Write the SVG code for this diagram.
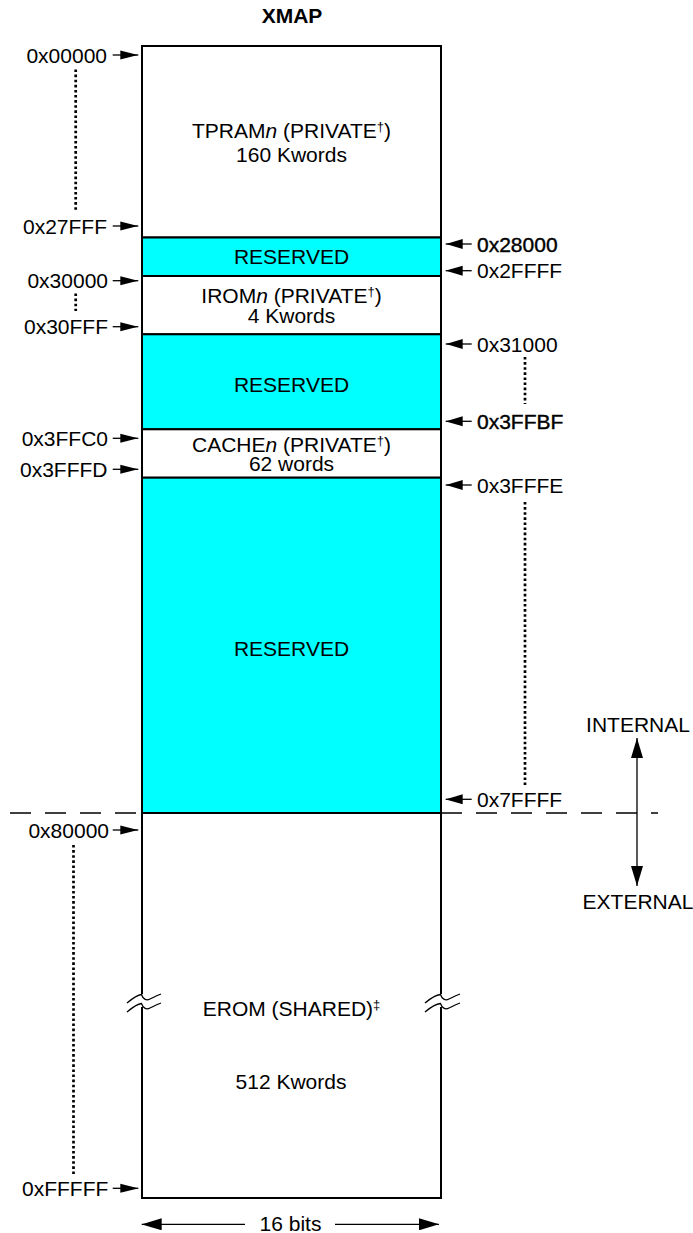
<svg xmlns="http://www.w3.org/2000/svg" width="693" height="1233" viewBox="0 0 693 1233">
<defs>
<style>
text{font-family:"Liberation Sans",Arial,sans-serif;font-size:21px;fill:#000}
.c{text-anchor:middle}
.r{text-anchor:end}
.b{font-weight:bold}
.hv{stroke:#000;stroke-width:0.4}
.blk{stroke:#000;stroke-width:2;fill:#fff}
.res{stroke:#000;stroke-width:2;fill:#00ffff}
.ln{stroke:#000;stroke-width:1.3;fill:none}
.dot{stroke:#000;stroke-width:2.7;fill:none;stroke-dasharray:2.6 2.5}
.dash{stroke:#000;stroke-width:1.3;fill:none;stroke-dasharray:21 14}
.brk{stroke:#000;stroke-width:1.3;fill:none}
.side{stroke:#000;stroke-width:2;fill:none}
</style>
<marker id="aS" markerUnits="userSpaceOnUse" markerWidth="18" markerHeight="10" refX="18" refY="5" orient="auto"><path d="M0,0.5 L18,5 L0,9.5 z" fill="#000"/></marker>
<marker id="aR" markerUnits="userSpaceOnUse" markerWidth="17" markerHeight="11" refX="17" refY="5.5" orient="auto"><path d="M0,0.5 L17,5.5 L0,10.5 z" fill="#000"/></marker>
<marker id="aB" markerUnits="userSpaceOnUse" markerWidth="20" markerHeight="12" refX="20" refY="6" orient="auto"><path d="M0,0 L20,6 L0,12 z" fill="#000"/></marker>
</defs>

<text class="c b" x="292" y="23">XMAP</text>

<g id="tpram">
<rect class="blk" x="142" y="46" width="299" height="191.5"/>
<text class="c" x="291.5" y="137.5">TPRAM<tspan font-style="italic">n</tspan> (PRIVATE<tspan font-size="13" dy="-7">†</tspan><tspan dy="7">)</tspan></text>
<text class="c" x="291.5" y="162.3">160 Kwords</text>
</g>
<g id="reserved1">
<rect class="res" x="142" y="237.5" width="299" height="38.5"/>
<text class="c" x="291.5" y="264">RESERVED</text>
</g>
<g id="irom">
<rect class="blk" x="142" y="276" width="299" height="58.3"/>
<text class="c" x="291.5" y="302.5">IROM<tspan font-style="italic">n</tspan> (PRIVATE<tspan font-size="13" dy="-7">†</tspan><tspan dy="7">)</tspan></text>
<text class="c" x="291.5" y="323">4 Kwords</text>
</g>
<g id="reserved2">
<rect class="res" x="142" y="334.3" width="299" height="95"/>
<text class="c" x="291.5" y="392">RESERVED</text>
</g>
<g id="cache">
<rect class="blk" x="142" y="429.3" width="299" height="48.4"/>
<text class="c" x="291.5" y="451.7">CACHE<tspan font-style="italic">n</tspan> (PRIVATE<tspan font-size="13" dy="-7">†</tspan><tspan dy="7">)</tspan></text>
<text class="c" x="291.5" y="470.5">62 words</text>
</g>
<g id="reserved3">
<rect class="res" x="142" y="477.7" width="299" height="335.3"/>
<text class="c" x="291.5" y="655.5">RESERVED</text>
</g>
<g id="erom">
<rect x="142" y="813" width="299" height="385" fill="#fff"/>
<path class="side" d="M141,813 H442 M141,1198 H442"/>
<path class="side" d="M142,813 V994 M142,1007 V1199 M441,813 V994 M441,1007 V1199"/>
<path class="brk" d="M127,1003 C133,998 137,995 141.5,994.5 C143,999 146,1001 150,999 C154,997 158,995 161,994"/>
<path class="brk" d="M127,1012 C133,1007 137,1004 141.5,1003.5 C143,1008 146,1010 150,1008 C154,1006 158,1004 161,1003"/>
<path class="brk" d="M425,1003 C431,998 435,995 440.5,994.5 C442,999 445,1001 449,999 C453,997 457,995 460,994"/>
<path class="brk" d="M425,1012 C431,1007 435,1004 440.5,1003.5 C442,1008 445,1010 449,1008 C453,1006 457,1004 460,1003"/>
<text class="c" x="291.5" y="1016">EROM (SHARED)<tspan font-size="13" dy="-7">‡</tspan></text>
<text class="c" x="291" y="1089">512 Kwords</text>
</g>

<g id="left-labels">
<text class="r" x="107" y="62.5">0x00000</text>
<text class="r" x="107" y="233.5">0x27FFF</text>
<text class="r" x="108" y="288">0x30000</text>
<text class="r" x="108" y="334">0x30FFF</text>
<text class="r" x="108" y="445.5">0x3FFC0</text>
<text class="r" x="107.5" y="476.5">0x3FFFD</text>
<text class="r" x="109" y="837.5">0x80000</text>
<text class="r" x="108.3" y="1195.7">0xFFFFF</text>
</g>
<g id="right-labels">
<text class="hv" x="477" y="251.7">0x28000</text>
<text x="477" y="277.7">0x2FFFF</text>
<text x="477" y="351.5">0x31000</text>
<text class="hv" x="477" y="429">0x3FFBF</text>
<text x="477" y="493">0x3FFFE</text>
<text x="477" y="807">0x7FFFF</text>
</g>
<g id="internal-external">
<text class="c" x="638" y="732">INTERNAL</text>
<text class="c" x="638" y="909">EXTERNAL</text>
</g>
<g id="width-label">
<text class="c" x="290.5" y="1231">16 bits</text>
</g>

<g id="connectors">
<path class="ln" marker-end="url(#aS)" d="M112.7,55 H138.3"/>
<path class="ln" marker-end="url(#aS)" d="M112.7,226 H138.3"/>
<path class="ln" marker-end="url(#aS)" d="M112.7,280.7 H138.3"/>
<path class="ln" marker-end="url(#aS)" d="M112.7,326.7 H138.3"/>
<path class="ln" marker-end="url(#aS)" d="M112.7,438.3 H138.3"/>
<path class="ln" marker-end="url(#aS)" d="M112.7,469.3 H138.3"/>
<path class="ln" marker-end="url(#aS)" d="M112.7,830 H138.3"/>
<path class="ln" marker-end="url(#aS)" d="M112.7,1188.3 H138.3"/>

<path class="ln" marker-end="url(#aR)" d="M471.7,244 H445.7"/>
<path class="ln" marker-end="url(#aR)" d="M471.7,270.7 H445.7"/>
<path class="ln" marker-end="url(#aR)" d="M471.7,344 H445.7"/>
<path class="ln" marker-end="url(#aR)" d="M471.7,421.3 H445.7"/>
<path class="ln" marker-end="url(#aR)" d="M471.7,485 H445.7"/>
<path class="ln" marker-end="url(#aR)" d="M471.7,799.3 H445.7"/>

<path class="dot" d="M75.7,69.5 V212"/>
<path class="dot" d="M75.7,293.5 V311"/>
<path class="dot" d="M525,357 V404"/>
<path class="dot" d="M525,502 V787"/>
<path class="dot" d="M73.5,845 V1174"/>

<path class="dash" d="M10,813 H142 M441,813 H658"/>

<path class="ln" marker-end="url(#aB)" d="M637,812 V738"/>
<path class="ln" marker-end="url(#aB)" d="M637,812 V886"/>

<path class="ln" marker-end="url(#aB)" d="M245,1224.3 H141.7"/>
<path class="ln" marker-end="url(#aB)" d="M335,1224.3 H439"/>
</g>
</svg>
